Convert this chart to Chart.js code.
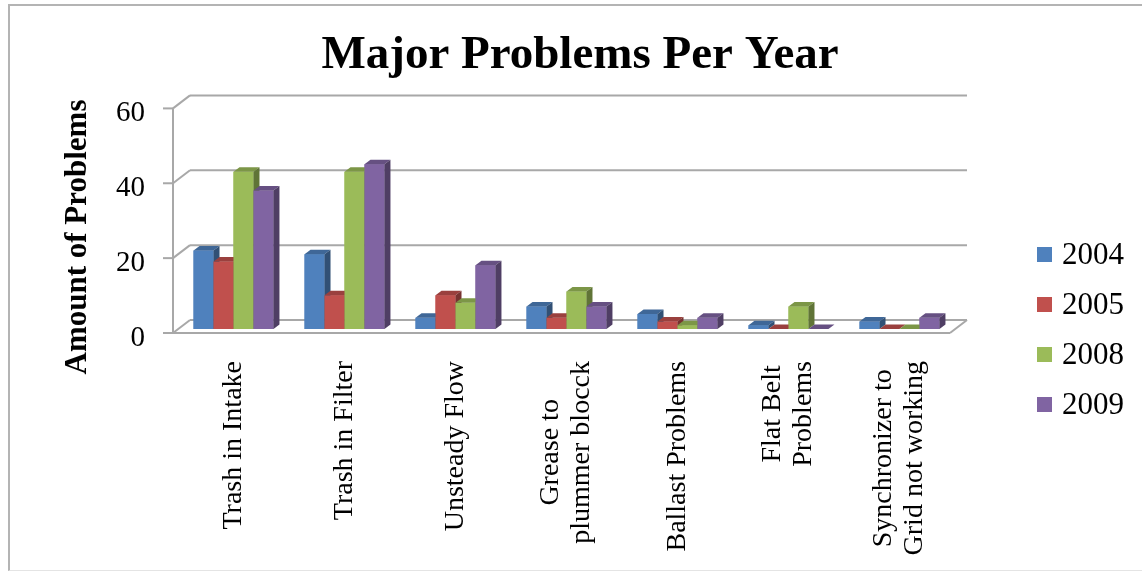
<!DOCTYPE html>
<html>
<head>
<meta charset="utf-8">
<script src="https://cdn.jsdelivr.net/npm/chart.js@4.4.1/dist/chart.umd.min.js"></script>
<style>
  html, body { margin: 0; padding: 0; background: #fff; overflow: hidden; }
  #wrap { position: relative; width: 1142px; height: 571px; }
  #frame { position: absolute; left: 8px; top: 4px; width: 1140px; height: 564px;
           border-top: 2px solid #b4b4b4; border-left: 2px solid #b4b4b4; border-bottom: 1px solid #e4e4e4; }
  canvas { position: absolute; left: 0; top: 0; }
</style>
</head>
<body>
<div id="wrap">
  <div id="frame"></div>
  <canvas id="chart" width="1142" height="571"></canvas>
</div>
<script>
// Problem categories (multi-line labels as arrays)
const categories = [
  'Trash in Intake',
  'Trash in Filter',
  'Unsteady Flow',
  ['Grease to', 'plummer blocck'],
  'Ballast Problems',
  ['Flat Belt', 'Problems'],
  ['Synchronizer to', 'Grid not working']
];
const years = ['2004', '2005', '2008', '2009'];
const count2004 = [21, 20, 3, 6, 4, 1, 2];
const count2005 = [18, 9, 9, 3, 2, 0, 0];
const count2008 = [42, 42, 7, 10, 1, 6, 0];
const count2009 = [37, 44, 17, 6, 3, 0, 3];
const yTicks = [0, 20, 40, 60];

const titleText = 'Major Problems Per Year';
const yTitleText = 'Amount of Problems';

const palette = ['#4F81BD', '#C0504D', '#9BBB59', '#8064A2'];
const SERIF = '"Liberation Serif", "Times New Roman", serif';

// pseudo-3D geometry (pixels)
const BAR_DX = 6, BAR_DY = -4.5;      // bar depth
const FRONT = { dx: -5, dy: 4 };      // front edge of the floor / axis
const BACK = { dx: 12, dy: -9 };      // back wall
const GRID_COLOR = '#a8a8a8';

function shade(hex, f) {
  const n = parseInt(hex.slice(1), 16);
  const r = Math.round(((n >> 16) & 255) * f);
  const g = Math.round(((n >> 8) & 255) * f);
  const b = Math.round((n & 255) * f);
  return `rgb(${r},${g},${b})`;
}

function poly(ctx, pts) {
  ctx.beginPath();
  ctx.moveTo(pts[0][0], pts[0][1]);
  for (let k = 1; k < pts.length; k++) ctx.lineTo(pts[k][0], pts[k][1]);
  ctx.closePath();
  ctx.fill();
}

function seg(ctx, x1, y1, x2, y2) {
  ctx.beginPath();
  ctx.moveTo(x1, y1);
  ctx.lineTo(x2, y2);
  ctx.stroke();
}

// Back wall gridlines, floor outline and the front value axis
const wallsPlugin = {
  id: 'walls',
  beforeDatasetsDraw(chart) {
    const { ctx, chartArea: a, scales: { y } } = chart;
    ctx.save();
    ctx.strokeStyle = GRID_COLOR;
    ctx.lineWidth = 2;
    y.ticks.forEach(t => {
      const py = y.getPixelForValue(t.value);
      seg(ctx, a.left + FRONT.dx - 10, py + FRONT.dy, a.left + FRONT.dx, py + FRONT.dy);
      seg(ctx, a.left + FRONT.dx, py + FRONT.dy, a.left + BACK.dx, py + BACK.dy);
      seg(ctx, a.left + BACK.dx, py + BACK.dy, a.right + BACK.dx, py + BACK.dy);
    });
    const y0 = y.getPixelForValue(0);
    const yTop = y.getPixelForValue(y.max);
    seg(ctx, a.left + FRONT.dx, yTop + FRONT.dy, a.left + FRONT.dx, y0 + FRONT.dy);
    seg(ctx, a.left + FRONT.dx, y0 + FRONT.dy, a.right + FRONT.dx, y0 + FRONT.dy);
    seg(ctx, a.right + FRONT.dx, y0 + FRONT.dy, a.right + BACK.dx, y0 + BACK.dy);
    ctx.restore();
  }
};

// Redraw bars left to right, adding top and side faces
const solidBarsPlugin = {
  id: 'solidBars',
  afterDatasetsDraw(chart) {
    const ctx = chart.ctx;
    const metas = chart.data.datasets.map((d, i) => chart.getDatasetMeta(i));
    ctx.save();
    for (let j = 0; j < chart.data.labels.length; j++) {
      metas.forEach((meta, i) => {
        const bar = meta.data[j];
        bar.draw(ctx);
        const { x, y, base, width } = bar.getProps(['x', 'y', 'base', 'width'], true);
        const l = x - width / 2, r = x + width / 2;
        ctx.fillStyle = shade(palette[i], 0.80);
        poly(ctx, [[l, y], [r, y], [r + BAR_DX, y + BAR_DY], [l + BAR_DX, y + BAR_DY]]);
        ctx.fillStyle = shade(palette[i], 0.62);
        poly(ctx, [[r, y], [r + BAR_DX, y + BAR_DY], [r + BAR_DX, base + BAR_DY], [r, base]]);
      });
    }
    ctx.restore();
  }
};

// Category labels, value-axis title and legend
const textPlugin = {
  id: 'texts',
  afterDraw(chart) {
    const { ctx, scales: { x } } = chart;
    ctx.save();
    ctx.fillStyle = '#000';

    // rotated category labels, lines centred within each block
    ctx.font = `28px ${SERIF}`;
    ctx.textAlign = 'center';
    ctx.textBaseline = 'middle';
    const lineH = 31, labelTop = 361;
    chart.data.labels.forEach((lab, i) => {
      const lines = Array.isArray(lab) ? lab : [lab];
      const w = Math.max(...lines.map(s => ctx.measureText(s).width));
      const cx = x.getPixelForValue(i);
      ctx.save();
      ctx.translate(cx, labelTop);
      ctx.rotate(-Math.PI / 2);
      lines.forEach((s, k) => {
        ctx.fillText(s, -w / 2, (k - (lines.length - 1) / 2) * lineH);
      });
      ctx.restore();
    });

    // value-axis title
    ctx.font = `bold 31px ${SERIF}`;
    ctx.save();
    ctx.translate(78, 237);
    ctx.rotate(-Math.PI / 2);
    ctx.fillText(yTitleText, 0, 0);
    ctx.restore();

    // legend
    ctx.font = `31px ${SERIF}`;
    ctx.textAlign = 'left';
    chart.data.datasets.forEach((ds, i) => {
      const cy = 255 + i * 50;
      ctx.fillStyle = palette[i];
      ctx.fillRect(1037, cy - 8, 15, 15);
      ctx.fillStyle = '#000';
      ctx.fillText(ds.label, 1062, cy + 1);
    });
    ctx.restore();
  }
};

const seriesValues = [count2004, count2005, count2008, count2009];

new Chart(document.getElementById('chart'), {
  type: 'bar',
  data: {
    labels: categories,
    datasets: years.map((yr, i) => ({
      label: yr,
      data: seriesValues[i],
      backgroundColor: palette[i],
      borderWidth: 0,
      categoryPercentage: 0.72,
      barPercentage: 1.0
    }))
  },
  options: {
    responsive: false,
    animation: false,
    devicePixelRatio: 1,
    layout: { padding: { left: 18, right: 0, top: 0, bottom: 0 } },
    plugins: {
      legend: { display: false },
      tooltip: { enabled: false },
      title: {
        display: true,
        text: titleText,
        color: '#000',
        font: { family: SERIF, size: 47, weight: 'bold', lineHeight: 1.2 },
        padding: { top: 28, bottom: 20 }
      }
    },
    scales: {
      x: {
        grid: { display: false },
        border: { display: false },
        ticks: { display: false },
        afterFit(s) { s.height = 242; }
      },
      y: {
        min: 0,
        max: 60,
        afterBuildTicks(s) { s.ticks = yTicks.map(v => ({ value: v })); },
        grid: { display: false, drawTicks: false },
        border: { display: false },
        ticks: { padding: 33, labelOffset: 9, color: '#000', font: { family: SERIF, size: 29 } },
        afterFit(s) { s.width = 160; }
      },
      legendSpace: {
        position: 'right',
        display: true,
        grid: { display: false },
        border: { display: false },
        ticks: { display: false },
        afterFit(s) { s.width = 187; }
      }
    }
  },
  plugins: [wallsPlugin, solidBarsPlugin, textPlugin]
});
</script>
</body>
</html>
